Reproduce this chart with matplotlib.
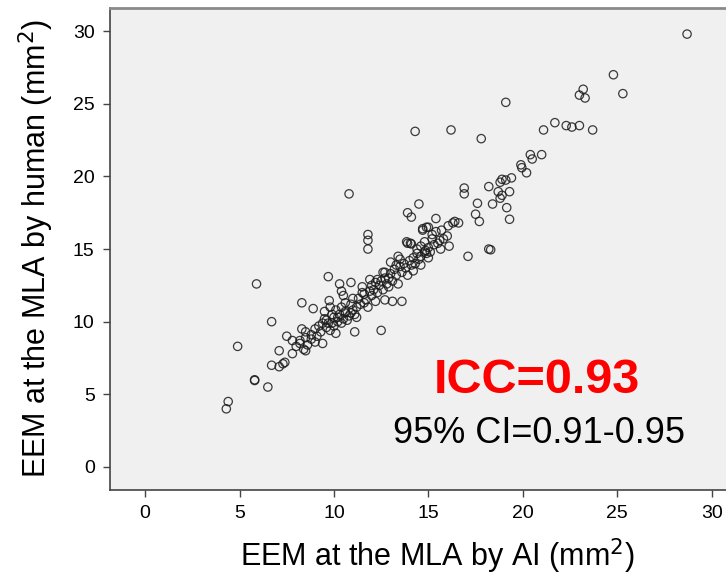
import matplotlib
matplotlib.use("Agg")
import matplotlib.pyplot as plt

plt.rcParams['font.family'] = ['Liberation Sans', 'DejaVu Sans']

# EEM at the MLA (mm^2): AI measurement vs human measurement
ai = [28.7, 24.8, 25.3, 23.2, 23.0, 23.3, 19.1, 14.3, 16.2, 17.8,
      21.1, 21.7, 22.3, 22.6, 23.0, 23.7, 20.4, 20.5, 21.0, 19.9,
      19.95, 20.2, 19.4, 18.9, 19.1, 18.8, 18.2, 19.3, 18.7, 18.9,
      18.8, 16.9, 16.9, 18.4, 19.15, 19.3, 17.6, 17.5, 17.7, 16.6,
      16.05, 15.4, 14.5, 13.9, 14.1, 14.7, 15.0, 13.85, 14.05, 15.2,
      15.6, 15.8, 16.0, 16.1, 15.65, 14.85, 14.6, 14.9, 17.1, 18.2,
      18.3, 10.8, 11.8, 11.8, 11.8, 9.7, 5.9, 10.3, 10.9, 8.3,
      8.9, 9.75, 10.4, 11.1, 12.5, 9.4, 13.6, 13.1, 12.6, 6.7,
      4.9, 4.4, 4.3, 5.8, 5.8, 6.5, 6.7, 7.1, 7.4, 7.3,
      7.1, 7.8, 7.5, 7.8, 8.2, 8.3, 8.5, 8.4, 8.2, 8.5,
      8.8, 9.0, 8.5, 9.0, 9.4, 9.6, 9.7, 9.5, 10.1, 9.5,
      9.8, 10.1, 10.4, 10.6, 10.9, 11.2, 11.6, 11.5, 11.6, 11.9,
      12.0, 12.2, 11.9, 12.3, 12.7, 13.0, 13.4, 13.9, 14.1, 14.7,
      14.9, 12.6, 12.7, 10.0, 10.2, 10.3, 10.5, 10.6, 10.8, 11.0,
      11.1, 11.3, 11.4, 11.7, 11.8, 12.0, 12.1, 12.3, 12.4, 12.5,
      12.8, 12.9, 13.0, 13.1, 13.2, 13.3, 13.5, 13.6, 13.7, 13.8,
      14.0, 14.1, 14.2, 14.3, 14.4, 14.5, 14.6, 14.8, 15.0, 15.1,
      15.3, 15.5, 15.2, 13.4, 13.9, 14.2, 14.6, 15.0, 9.2, 9.3,
      9.6, 9.8, 9.9, 10.0, 10.2, 10.4, 10.7, 10.9, 11.2, 8.0,
      8.6, 8.8, 9.1, 12.2, 13.5, 14.8, 15.4, 16.4, 12.9, 11.0,
      10.6, 9.9, 10.5, 11.5, 12.7, 13.3, 14.4, 15.7, 16.3]
human = [29.8, 27.0, 25.7, 26.0, 25.6, 25.4, 25.1, 23.1, 23.2, 22.6,
         23.2, 23.7, 23.5, 23.4, 23.5, 23.2, 21.5, 21.2, 21.5, 20.8,
         20.6, 20.25, 19.9, 19.8, 19.75, 19.6, 19.3, 18.95, 18.95, 18.7,
         18.5, 19.2, 18.8, 18.1, 17.85, 17.05, 18.15, 17.4, 16.9, 16.8,
         16.6, 17.1, 18.1, 17.5, 17.2, 16.4, 16.5, 15.5, 15.4, 15.7,
         15.6, 15.7, 15.9, 15.2, 15.0, 14.9, 15.2, 14.7, 14.5, 15.0,
         14.95, 18.8, 16.0, 15.6, 15.0, 13.1, 12.6, 12.6, 12.7, 11.3,
         10.9, 11.45, 12.1, 9.3, 9.4, 8.5, 11.4, 11.4, 13.4, 10.0,
         8.3, 4.5, 4.0, 6.0, 5.95, 5.5, 7.0, 6.9, 7.2, 7.1,
         8.0, 7.8, 9.0, 8.7, 8.5, 9.5, 8.0, 8.1, 8.7, 8.9,
         8.8, 8.6, 9.3, 9.5, 9.9, 10.1, 9.9, 10.2, 9.2, 10.7,
         11.0, 10.8, 11.0, 10.7, 11.2, 11.0, 11.3, 12.0, 11.9, 12.1,
         12.5, 12.7, 12.9, 12.9, 13.4, 14.1, 14.5, 15.4, 15.35, 16.3,
         16.5, 12.2, 11.5, 10.3, 10.0, 10.5, 10.2, 10.6, 10.4, 10.8,
         10.5, 11.6, 11.2, 11.5, 11.0, 11.8, 12.2, 12.0, 12.5, 12.8,
         12.6, 13.0, 13.3, 12.8, 13.6, 13.2, 13.8, 13.4, 14.0, 13.7,
         14.2, 13.9, 14.4, 14.0, 14.7, 14.3, 14.5, 14.8, 15.1, 14.8,
         15.3, 15.4, 16.0, 12.6, 13.2, 13.5, 13.9, 14.4, 9.7, 9.3,
         9.6, 9.4, 9.9, 9.7, 10.3, 9.9, 10.1, 10.6, 10.3, 8.3,
         8.4, 9.1, 9.0, 11.4, 14.3, 15.5, 16.2, 16.9, 12.4, 11.6,
         11.3, 10.5, 11.8, 12.4, 13.0, 13.9, 15.0, 16.3, 16.8]

ticks = [0, 5, 10, 15, 20, 25, 30]

fig = plt.figure(figsize=(7.26, 5.77), dpi=100)
ax = fig.add_axes([0.1515, 0.151, 0.8500, 0.835])
ax.set_facecolor('#f0f0f0')

ax.scatter(ai, human, s=36, facecolors='none', edgecolors='#1a1a1a',
           linewidths=0.9, alpha=0.85)

ax.set_xlim(-1.86, 30.82)
ax.set_ylim(-1.58, 31.59)
ax.set_xticks(ticks)
ax.set_yticks(ticks)
ax.tick_params(direction='out', length=5, width=1.0, color='#444444',
               labelsize=14, pad=6)

for side in ['left', 'bottom']:
    ax.spines[side].set_color('#444444')
    ax.spines[side].set_linewidth(1.2)
ax.spines['top'].set_color('#8a8a8a')
ax.spines['top'].set_linewidth(2)
ax.spines['right'].set_visible(False)

ax.set_xlabel('EEM at the MLA by AI (mm$^2$)', fontsize=22, labelpad=10, x=0.53)
ax.set_ylabel('EEM at the MLA by human (mm$^2$)', fontsize=22, labelpad=12)

ax.text(0.692, 0.228, 'ICC=0.93', transform=ax.transAxes, ha='center',
        va='center', fontsize=35, fontweight='bold', color='red')
ax.text(0.695, 0.118, '95% CI=0.91-0.95', transform=ax.transAxes,
        ha='center', va='center', fontsize=26, color='black')

fig.savefig('out.png', dpi=100)
